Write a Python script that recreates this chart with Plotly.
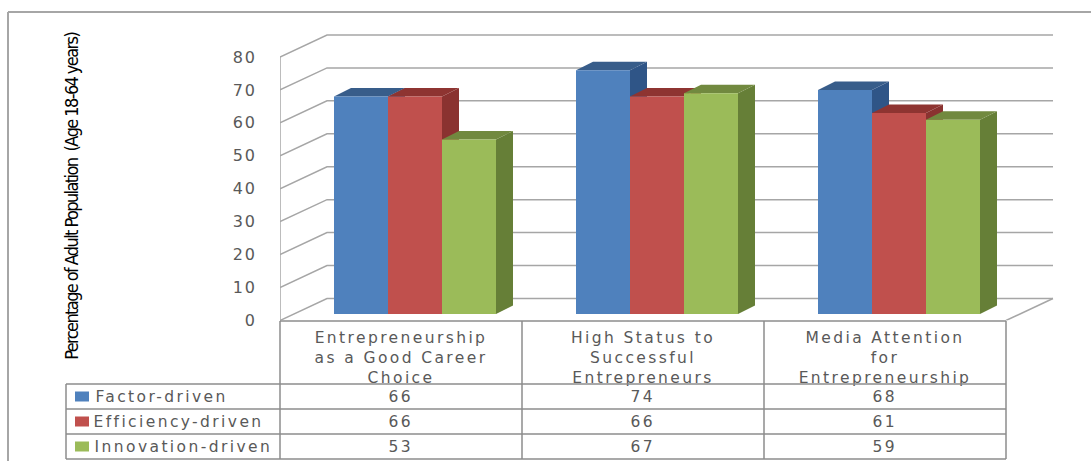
import plotly.graph_objects as go

# Chart data
categories = ["Entrepreneurship<br>as a Good Career<br>Choice",
              "High Status to<br>Successful<br>Entrepreneurs",
              "Media Attention<br>for<br>Entrepreneurship"]
series_names = ["Factor-driven", "Efficiency-driven", "Innovation-driven"]
factor_driven = [66, 74, 68]
efficiency_driven = [66, 66, 61]
innovation_driven = [53, 67, 59]
y_ticks = [0, 10, 20, 30, 40, 50, 60, 70, 80]
y_title = "Percentage of Adult Population  (Age 18-64 years)"

# Colours: front, top and side face of each series
front_colors = ["#4f81bd", "#c0504d", "#9bbb59"]
top_colors = ["#385d8a", "#8e3431", "#71893f"]
side_colors = ["#2f5587", "#8a3230", "#667f37"]
GRID = "#a6a6a6"
TEXT = "#595959"

# Canvas and scale
W, H = 1091, 461
PX_PER_CAT = 242.0
PX_PER_UNIT = 3.294
X0_PX, Y0_PX = 280.0, 320.5
RIGHT_PX, TOP_PX = 1060.0, 30.0

x_range = [-0.5, -0.5 + (RIGHT_PX - X0_PX) / PX_PER_CAT]
y_range = [0, (Y0_PX - TOP_PX) / PX_PER_UNIT]
x_domain = [X0_PX / W, RIGHT_PX / W]
y_domain = [(H - Y0_PX) / H, (H - TOP_PX) / H]

# Oblique projection offsets, in axis units
WALL_DX, WALL_DY = 47 / PX_PER_CAT, 22 / PX_PER_UNIT
BAR_SHIFT, BAR_LIFT = 14 / PX_PER_CAT, 6.5 / PX_PER_UNIT
BAR_W = 54 / PX_PER_CAT
DEPTH_DX, DEPTH_DY = 17 / PX_PER_CAT, 8.5 / PX_PER_UNIT


def px(x):
    return x / W


def py(y):
    return 1 - y / H


fig = go.Figure()

# Back wall and left wall gridlines
for v in y_ticks:
    fig.add_trace(go.Scatter(
        x=[-0.5, -0.5 + WALL_DX, 2.5 + WALL_DX],
        y=[v, v + WALL_DY, v + WALL_DY],
        mode="lines", line=dict(color=GRID, width=1.5),
        hoverinfo="skip", showlegend=False, cliponaxis=False))
# Left edge and the right floor edge
fig.add_trace(go.Scatter(x=[-0.5, -0.5], y=[0, 80], mode="lines",
                         line=dict(color=GRID, width=1.5),
                         hoverinfo="skip", showlegend=False, cliponaxis=False))
fig.add_trace(go.Scatter(x=[2.5, 2.5 + WALL_DX], y=[0, WALL_DY], mode="lines",
                         line=dict(color=GRID, width=1.5),
                         hoverinfo="skip", showlegend=False, cliponaxis=False))

all_series = [factor_driven, efficiency_driven, innovation_driven]
offsets = [-1, 0, 1]

# Top and side faces of each column, drawn behind the front faces
for name, values, off, top_c, side_c in zip(series_names, all_series, offsets,
                                            top_colors, side_colors):
    for i, v in enumerate(values):
        xl = i + BAR_SHIFT + off * BAR_W - BAR_W / 2
        xr = xl + BAR_W
        top = v + BAR_LIFT
        fig.add_trace(go.Scatter(
            x=[xr, xr + DEPTH_DX, xr + DEPTH_DX, xr, xr],
            y=[BAR_LIFT, BAR_LIFT + DEPTH_DY, top + DEPTH_DY, top, BAR_LIFT],
            mode="lines", fill="toself", fillcolor=side_c,
            line=dict(width=0, color=side_c),
            hoverinfo="skip", showlegend=False))
        fig.add_trace(go.Scatter(
            x=[xl, xl + DEPTH_DX, xr + DEPTH_DX, xr, xl],
            y=[top, top + DEPTH_DY, top + DEPTH_DY, top, top],
            mode="lines", fill="toself", fillcolor=top_c,
            line=dict(width=0, color=top_c),
            hoverinfo="skip", showlegend=False))

# Front faces, on an overlaid pair of axes so they sit above the faces behind
for name, values, off, color in zip(series_names, all_series, offsets, front_colors):
    fig.add_trace(go.Bar(
        x=[i + BAR_SHIFT + off * BAR_W for i in range(len(values))],
        y=values, base=[BAR_LIFT] * len(values), width=BAR_W,
        marker=dict(color=color, line=dict(width=0)),
        name=name, showlegend=False, xaxis="x2", yaxis="y2"))

# Data table under the plot
col_edges = [280, 522, 764, 1006]
row_edges = [384, 409, 434, 459]
label_centres = [161, 178, 184]
TABLE_TOP, TABLE_LEFT = 321, 66


def rule(x0, y0, x1, y1, color="#8c8c8c", width=1.5):
    return dict(type="line", xref="paper", yref="paper", layer="above",
                x0=px(x0), y0=py(y0), x1=px(x1), y1=py(y1),
                line=dict(color=color, width=width))


shapes = [rule(8, 12, W, 12, "#a6a6a6", 2), rule(8, 12, 8, H, "#a6a6a6", 2)]
shapes.append(rule(col_edges[0], TABLE_TOP, col_edges[-1], TABLE_TOP))
for ce in col_edges:
    shapes.append(rule(ce, TABLE_TOP, ce, row_edges[-1]))
shapes.append(rule(TABLE_LEFT, row_edges[0], TABLE_LEFT, row_edges[-1]))
for re_ in row_edges:
    shapes.append(rule(TABLE_LEFT, re_, col_edges[-1], re_))

annotations = [dict(text=y_title, xref="paper", yref="paper", x=px(71.5), y=py(196.5),
                    textangle=-90, showarrow=False, xanchor="center", yanchor="middle",
                    font=dict(family="DejaVu Sans Condensed, DejaVu Sans", size=18,
                              color="#000000"))]
for r, (name, values, color) in enumerate(zip(series_names, all_series, front_colors)):
    mid = (row_edges[r] + row_edges[r + 1]) / 2
    shapes.append(dict(type="rect", xref="paper", yref="paper", layer="above",
                       x0=px(75), x1=px(89), y0=py(mid - 5), y1=py(mid + 5),
                       fillcolor=color, line=dict(width=0)))
    annotations.append(dict(text=name, xref="paper", yref="paper", x=px(label_centres[r]),
                            y=py(mid), showarrow=False, xanchor="center", yanchor="middle",
                            font=dict(family="DejaVu Sans", size=15.5, color=TEXT)))
    for c, v in enumerate(values):
        annotations.append(dict(text=str(v), xref="paper", yref="paper",
                                x=px((col_edges[c] + col_edges[c + 1]) / 2), y=py(mid),
                                showarrow=False, xanchor="center", yanchor="middle",
                                font=dict(family="DejaVu Sans", size=15.5, color=TEXT)))

fig.update_layout(
    width=W, height=H, autosize=False,
    margin=dict(l=0, r=0, t=0, b=0),
    paper_bgcolor="#ffffff", plot_bgcolor="rgba(0,0,0,0)",
    barmode="overlay", showlegend=False,
    shapes=shapes, annotations=annotations,
    xaxis=dict(domain=x_domain, range=x_range, tickmode="array", automargin=False,
               tickvals=[0, 1, 2], ticktext=categories, showgrid=False, zeroline=False,
               showline=False, ticks="", ticklabelstandoff=6,
               tickfont=dict(family="DejaVu Sans", size=15.5, color=TEXT)),
    yaxis=dict(domain=y_domain, range=y_range, tickmode="array", automargin=False,
               tickvals=y_ticks, showgrid=False, zeroline=False, showline=False,
               ticks="", ticklabelstandoff=22,
               tickfont=dict(family="DejaVu Sans", size=16, color=TEXT)),
    xaxis2=dict(domain=x_domain, range=x_range, overlaying="x", visible=False, automargin=False),
    yaxis2=dict(domain=y_domain, range=y_range, overlaying="y", visible=False, automargin=False),
)

# The chart's lettering is set wide; the axis title is set tight
spacing_css = """
var s = document.createElement('style');
s.textContent = '.xtick text, .annotation-text {letter-spacing: 2.4px;}'
  + '.ytick text {letter-spacing: 2px;}'
  + '.annotation-text[data-unformatted^="Percentage"] {letter-spacing: -1.6px;}';
document.head.appendChild(s);
"""
fig.write_html("out.html", post_script=spacing_css)
